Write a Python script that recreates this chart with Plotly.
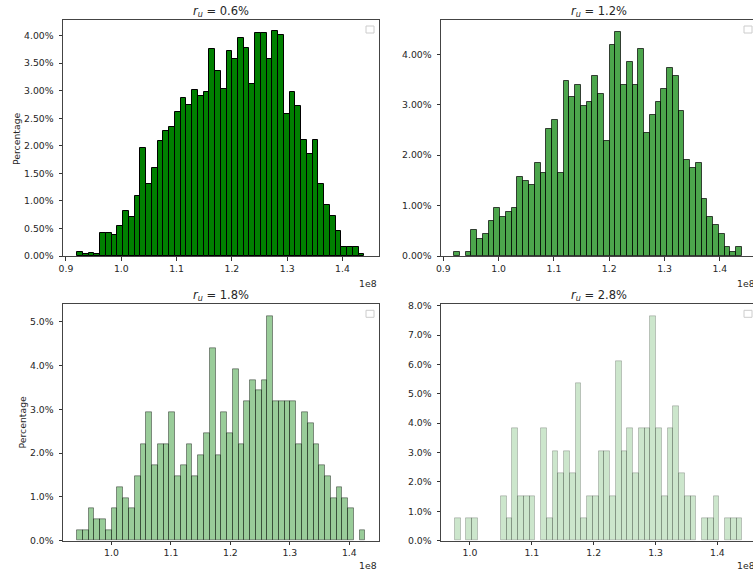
import numpy as np
import plotly.graph_objects as go

SCALE = 1e8
N_BINS = 50

# Percentage of runs falling in each of 50 equal-width bins, per unemployment rate r_u
ru_labels = ["0.6%", "1.2%", "1.8%", "2.8%"]

pct_06 = [0.08, 0.03, 0.05, 0.03, 0.41, 0.41, 0.38, 0.55, 0.81, 0.70,
          1.09, 1.97, 1.30, 1.59, 2.09, 2.27, 2.35, 2.62, 2.86, 2.74,
          3.01, 2.90, 2.98, 3.75, 3.36, 3.03, 3.73, 3.58, 3.95, 3.78,
          3.12, 4.04, 4.04, 3.58, 4.08, 4.02, 2.57, 2.98, 2.73, 2.11,
          1.85, 2.11, 1.30, 0.93, 0.72, 0.45, 0.16, 0.16, 0.16, 0.04]

pct_12 = [0.086, 0.0, 0.086, 0.51, 0.34, 0.44, 0.70, 0.95, 0.78, 0.875,
          0.95, 1.57, 1.48, 1.41, 1.84, 1.64, 2.53, 2.70, 1.64, 3.48,
          3.15, 3.40, 2.97, 3.05, 3.57, 3.22, 2.28, 4.18, 4.45, 3.40,
          3.84, 3.40, 4.11, 2.44, 2.79, 3.05, 3.31, 3.74, 3.57, 2.88,
          1.91, 1.74, 1.84, 1.14, 0.78, 0.61, 0.44, 0.17, 0.086, 0.17]

counts_18 = [1, 1, 3, 2, 2, 1, 3, 5, 4, 3, 6, 9, 12, 7, 9, 9, 12, 6, 7, 9,
             6, 8, 10, 18, 8, 12, 10, 16, 9, 13, 15, 14, 15, 21, 13, 13, 13, 13, 9, 12,
             11, 9, 7, 6, 4, 5, 4, 3, 0, 1]

counts_28 = [1, 0, 1, 1, 0, 0, 0, 0, 2, 1, 5, 2, 2, 2, 0, 5, 1, 4, 3, 4,
             3, 7, 1, 2, 2, 4, 4, 2, 8, 4, 5, 3, 5, 5, 10, 5, 2, 5, 6, 3,
             2, 2, 0, 1, 1, 2, 0, 1, 1, 1]

pct_18 = [100.0 * c / sum(counts_18) for c in counts_18]
pct_28 = [100.0 * c / sum(counts_28) for c in counts_28]

# min / max of each sample (histogram spans these)
data_ranges = [(0.9204e8, 1.4394e8), (0.9196e8, 1.4401e8),
               (0.9422e8, 1.4272e8), (0.9756e8, 1.4403e8)]

series = [pct_06, pct_12, pct_18, pct_28]
alphas = [1.0, 0.7, 0.4, 0.2]

x_ranges = [[0.8946, 1.466], [0.8958, 1.460], [0.9185, 1.450], [0.9532, 1.4576]]
y_ranges = [[0, 4.285], [0, 4.683], [0, 5.397], [0, 8.05]]
y_dticks = [0.5, 1.0, 1.0, 1.0]
y_formats = [".2f", ".2f", ".1f", ".1f"]
x_ticks = [[0.9, 1.0, 1.1, 1.2, 1.3, 1.4], [0.9, 1.0, 1.1, 1.2, 1.3, 1.4],
           [1.0, 1.1, 1.2, 1.3, 1.4], [1.0, 1.1, 1.2, 1.3, 1.4]]

W, H = 753, 572
# pixel boxes of the four axes: (left, right, top, bottom)
boxes = [(63, 379, 20, 256), (441, 757, 20, 256),
         (63, 379, 304.3, 540.7), (441, 757, 304.3, 540.7)]
# distance below each axes for the "1e8" scale text
exp_offsets = [19.5, 19.5, 17, 17]

FONT = "DejaVu Sans"
TXT = "#262626"

fig = go.Figure()
layout = dict(width=W, height=H,
              margin=dict(l=0, r=0, t=0, b=0, autoexpand=False),
              paper_bgcolor="white", plot_bgcolor="white", showlegend=False,
              font=dict(family=FONT, color=TXT, size=9.3))
annotations = []
shapes = []

for i in range(4):
    lo, hi = data_ranges[i]
    edges = np.linspace(lo, hi, N_BINS + 1) / SCALE
    centers = (edges[:-1] + edges[1:]) / 2
    width = edges[1] - edges[0]
    # empty bins draw nothing
    heights = [v if v > 0 else None for v in series[i]]
    a = alphas[i]
    sfx = "" if i == 0 else str(i + 1)
    fig.add_trace(go.Bar(
        x=centers, y=heights, width=width,
        marker=dict(color=f"rgba(0,128,0,{a})",
                    line=dict(color=f"rgba(0,0,0,{a})", width=1)),
        xaxis="x" + sfx, yaxis="y" + sfx, hoverinfo="x+y"))

    left, right, top, bottom = boxes[i]
    xdom = [left / W, min(right / W, 1.0)]
    ydom = [1 - bottom / H, 1 - top / H]
    right_col = i % 2 == 1
    layout["xaxis" + sfx] = dict(
        domain=xdom, range=x_ranges[i], anchor="y" + sfx,
        tickvals=x_ticks[i], tickformat=".1f",
        ticks="outside", ticklen=3.5, tickwidth=1, tickcolor="#333",
        showline=True, mirror=True, linecolor="#444", linewidth=1,
        showgrid=False, zeroline=False, fixedrange=True,
        tickfont=dict(family=FONT, size=9.3, color=TXT))
    layout["yaxis" + sfx] = dict(
        domain=ydom, range=y_ranges[i], anchor="x" + sfx,
        dtick=y_dticks[i], tick0=0, tickformat=y_formats[i], ticksuffix="%",
        ticks="outside", ticklen=3.5, tickwidth=1, tickcolor="#333",
        ticklabelstandoff=3,
        showline=True, mirror=not right_col, linecolor="#444", linewidth=1,
        showgrid=False, zeroline=False, fixedrange=True,
        tickfont=dict(family=FONT, size=9.3, color=TXT))

    # subplot title
    annotations.append(dict(
        x=(left + right) / 2 / W, y=1 - (top + 1) / H, xref="paper", yref="paper",
        xanchor="center", yanchor="bottom", showarrow=False,
        text=f"<i>r<sub>u</sub></i> = {ru_labels[i]}",
        font=dict(family=FONT, size=11.5, color=TXT)))
    # exponent of the x scale
    annotations.append(dict(
        x=right / W, y=1 - (bottom + exp_offsets[i]) / H, xref="paper", yref="paper",
        xanchor="right", yanchor="top", showarrow=False, text="1e8",
        font=dict(family=FONT, size=9.3, color=TXT)))
    # empty legend frame in the upper-right corner
    lx1 = right - 5
    lx0 = lx1 - 8
    shapes.append(dict(type="rect", xref="paper", yref="paper",
                       x0=lx0 / W, x1=lx1 / W,
                       y0=1 - (top + 13) / H, y1=1 - (top + 6) / H,
                       line=dict(color="#cccccc", width=1), fillcolor="white"))

# y-axis labels on the left column
for i, xc in ((0, 16), (2, 22)):
    left, right, top, bottom = boxes[i]
    annotations.append(dict(
        x=xc / W, y=1 - (top + bottom) / 2 / H, xref="paper", yref="paper",
        xanchor="center", yanchor="middle", showarrow=False, textangle=-90,
        text="Percentage", font=dict(family=FONT, size=9.3, color=TXT)))

layout["annotations"] = annotations
layout["shapes"] = shapes
layout["bargap"] = 0
fig.update_layout(**layout)

fig.write_html("out.html")
